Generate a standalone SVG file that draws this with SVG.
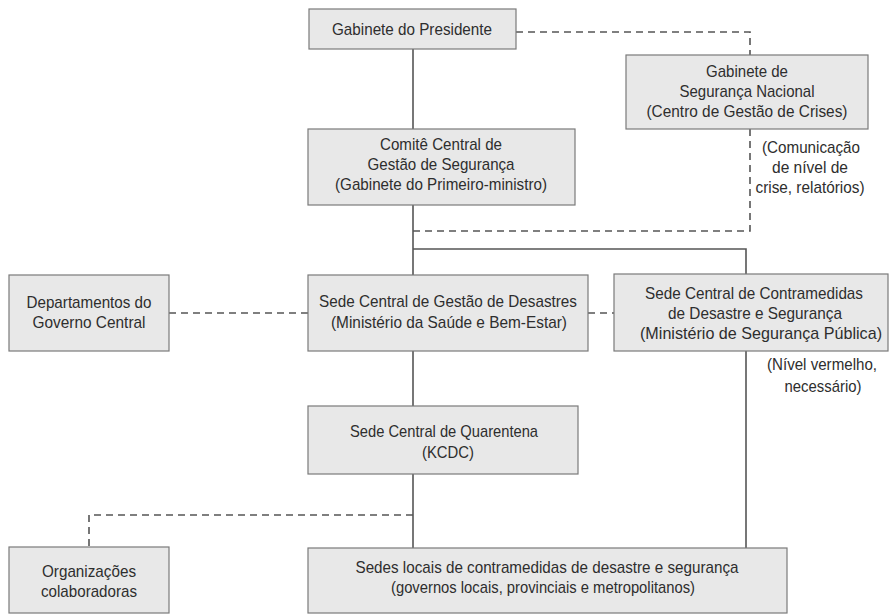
<svg xmlns="http://www.w3.org/2000/svg" width="889" height="614" viewBox="0 0 889 614">
<style>
.box{fill:#e8e8e8;stroke:#7a7a7a;stroke-width:1.2}
.t{font-family:"Liberation Sans",Arial,sans-serif;font-size:17px;fill:#2e2e2e;text-anchor:middle}
.s{fill:none;stroke:#555;stroke-width:1.6}
.d{fill:none;stroke:#555;stroke-width:1.6;stroke-dasharray:7 5}
</style>
<rect width="889" height="614" fill="#fff"/>
<g id="connectors">
<line class="s" x1="413" y1="49" x2="413" y2="129"/>
<polyline class="d" points="516,32 750,32 750,55"/>
<polyline class="d" points="750,129 750,231 413,231"/>
<line class="s" x1="413" y1="205" x2="413" y2="275"/>
<polyline class="s" points="413,249 746,249 746,274"/>
<line class="d" x1="169" y1="313" x2="308" y2="313"/>
<line class="d" x1="588" y1="313" x2="614" y2="313"/>
<line class="s" x1="413" y1="351" x2="413" y2="406"/>
<line class="s" x1="413" y1="474" x2="413" y2="548"/>
<polyline class="d" points="413,515 89,515 89,547"/>
<line class="s" x1="746" y1="351" x2="746" y2="548"/>
</g>
<g id="n-presidente">
<rect class="box" x="309" y="9" width="207" height="40"/>
<text class="t" x="412" y="35" textLength="160" lengthAdjust="spacingAndGlyphs">Gabinete do Presidente</text>
</g>
<g id="n-seguranca-nacional">
<rect class="box" x="626" y="55" width="242" height="74"/>
<text class="t" x="747" y="77" textLength="82" lengthAdjust="spacingAndGlyphs">Gabinete de</text>
<text class="t" x="747" y="97" textLength="135" lengthAdjust="spacingAndGlyphs">Segurança Nacional</text>
<text class="t" x="747" y="117" textLength="201" lengthAdjust="spacingAndGlyphs">(Centro de Gestão de Crises)</text>
</g>
<g id="l-comunicacao">
<text class="t" x="811" y="153" textLength="98" lengthAdjust="spacingAndGlyphs">(Comunicação</text>
<text class="t" x="810" y="173" textLength="76" lengthAdjust="spacingAndGlyphs">de nível de</text>
<text class="t" x="810" y="193" textLength="109" lengthAdjust="spacingAndGlyphs">crise, relatórios)</text>
</g>
<g id="n-comite">
<rect class="box" x="308" y="129" width="267" height="76"/>
<text class="t" x="441" y="150" textLength="122" lengthAdjust="spacingAndGlyphs">Comitê Central de</text>
<text class="t" x="441" y="170" textLength="147" lengthAdjust="spacingAndGlyphs">Gestão de Segurança</text>
<text class="t" x="441" y="190" textLength="212" lengthAdjust="spacingAndGlyphs">(Gabinete do Primeiro-ministro)</text>
</g>
<g id="n-departamentos">
<rect class="box" x="9" y="275" width="160" height="76"/>
<text class="t" x="89" y="308" textLength="125" lengthAdjust="spacingAndGlyphs">Departamentos do</text>
<text class="t" x="89" y="328" textLength="113" lengthAdjust="spacingAndGlyphs">Governo Central</text>
</g>
<g id="n-gestao-desastres">
<rect class="box" x="308" y="275" width="280" height="76"/>
<text class="t" x="448" y="307" textLength="258" lengthAdjust="spacingAndGlyphs">Sede Central de Gestão de Desastres</text>
<text class="t" x="449" y="328" textLength="236" lengthAdjust="spacingAndGlyphs">(Ministério da Saúde e Bem-Estar)</text>
</g>
<g id="n-contramedidas">
<rect class="box" x="614" y="274" width="274" height="77"/>
<text class="t" x="754" y="299" textLength="218" lengthAdjust="spacingAndGlyphs">Sede Central de Contramedidas</text>
<text class="t" x="755" y="319" textLength="174" lengthAdjust="spacingAndGlyphs">de Desastre e Segurança</text>
<text class="t" x="761" y="339" textLength="242" lengthAdjust="spacingAndGlyphs">(Ministério de Segurança Pública)</text>
</g>
<g id="l-nivel">
<text class="t" x="822" y="370" textLength="110" lengthAdjust="spacingAndGlyphs">(Nível vermelho,</text>
<text class="t" x="823" y="392" textLength="77" lengthAdjust="spacingAndGlyphs">necessário)</text>
</g>
<g id="n-quarentena">
<rect class="box" x="308" y="406" width="270" height="68"/>
<text class="t" x="444" y="437" textLength="188" lengthAdjust="spacingAndGlyphs">Sede Central de Quarentena</text>
<text class="t" x="448" y="458" textLength="52" lengthAdjust="spacingAndGlyphs">(KCDC)</text>
</g>
<g id="n-organizacoes">
<rect class="box" x="9" y="547" width="160" height="66"/>
<text class="t" x="89" y="577" textLength="94" lengthAdjust="spacingAndGlyphs">Organizações</text>
<text class="t" x="89" y="597" textLength="96" lengthAdjust="spacingAndGlyphs">colaboradoras</text>
</g>
<g id="n-sedes-locais">
<rect class="box" x="308" y="548" width="479" height="65"/>
<text class="t" x="547" y="573" textLength="383" lengthAdjust="spacingAndGlyphs">Sedes locais de contramedidas de desastre e segurança</text>
<text class="t" x="543" y="593" textLength="304" lengthAdjust="spacingAndGlyphs">(governos locais, provinciais e metropolitanos)</text>
</g>
</svg>
